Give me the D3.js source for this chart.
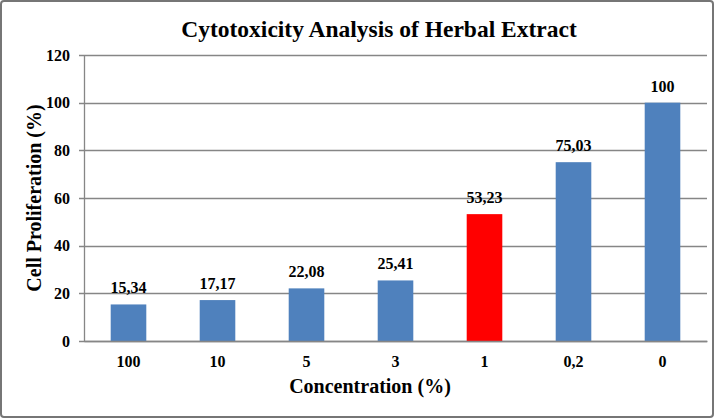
<!DOCTYPE html>
<html><head><meta charset="utf-8">
<script src="https://cdn.jsdelivr.net/npm/d3@7"></script>
<style>
html,body{margin:0;padding:0;background:#fff;}
svg{display:block;}
text{font-family:"Liberation Serif","Times New Roman",serif;font-weight:bold;fill:#000;}
</style></head>
<body>
<svg id="chart" width="715" height="419"></svg>
<script>
const categories = ["100","10","5","3","1","0,2","0"];
const values = [15.34, 17.17, 22.08, 25.41, 53.23, 75.03, 100];
const valueLabels = ["15,34","17,17","22,08","25,41","53,23","75,03","100"];
const highlighted = ["1"];
const yTicks = [0,20,40,60,80,100,120];

const W = 715, H = 419;
const margin = {top:55, right:8, bottom:78, left:84};
const svg = d3.select("#chart");

svg.append("rect").attr("x",1).attr("y",1).attr("width",W-3).attr("height",H-3)
  .attr("rx",3).attr("fill","#fff").attr("stroke","#767676").attr("stroke-width",2);

const x = d3.scaleBand().domain(categories).range([margin.left, W-margin.right]).paddingInner(0.6).paddingOuter(0.3);
const y = d3.scaleLinear().domain([0,120]).range([H-margin.bottom, margin.top]);

// gridlines
svg.append("g").selectAll("line").data(yTicks).join("line")
  .attr("x1",margin.left-5).attr("x2",W-margin.right)
  .attr("y1",d=>Math.round(y(d))+0.5).attr("y2",d=>Math.round(y(d))+0.5)
  .attr("stroke","#868686").attr("stroke-width",1.3);

// y axis
const yAxis = svg.append("g").attr("transform",`translate(${margin.left},0)`)
  .call(d3.axisLeft(y).tickValues(yTicks).tickSize(0).tickPadding(14));
yAxis.select(".domain").attr("stroke","#868686").attr("stroke-width",1.3);
yAxis.selectAll("text").attr("font-size",16).attr("fill","#000");

// bars
svg.append("g").selectAll("rect").data(values).join("rect")
  .attr("x",(d,i)=>x(categories[i]))
  .attr("width",x.bandwidth())
  .attr("y",d=>y(d))
  .attr("height",d=>y(0)-y(d))
  .attr("fill",(d,i)=>highlighted.includes(categories[i])?"#FF0000":"#4F81BD");

// x axis
const xAxis = svg.append("g").attr("transform",`translate(0,${y(0)})`)
  .call(d3.axisBottom(x).tickSize(0).tickPadding(15));
xAxis.select(".domain").attr("stroke","#868686").attr("stroke-width",1.3);
xAxis.selectAll("text").attr("font-size",16).attr("fill","#000");

// value labels
svg.append("g").selectAll("text").data(values).join("text")
  .attr("x",(d,i)=>x(categories[i])+x.bandwidth()/2)
  .attr("y",d=>y(d)-11)
  .attr("text-anchor","middle").attr("font-size",16)
  .text((d,i)=>valueLabels[i]);

// title
svg.append("text").attr("x",379).attr("y",37).attr("text-anchor","middle")
  .attr("font-size",23.5).text("Cytotoxicity Analysis of Herbal Extract");

// axis titles
svg.append("text").attr("x",370).attr("y",393).attr("text-anchor","middle")
  .attr("font-size",20).text("Concentration (%)");
svg.append("text").attr("transform","translate(41,198) rotate(-90)").attr("text-anchor","middle")
  .attr("font-size",20).text("Cell Proliferation (%)");
</script>
</body></html>
